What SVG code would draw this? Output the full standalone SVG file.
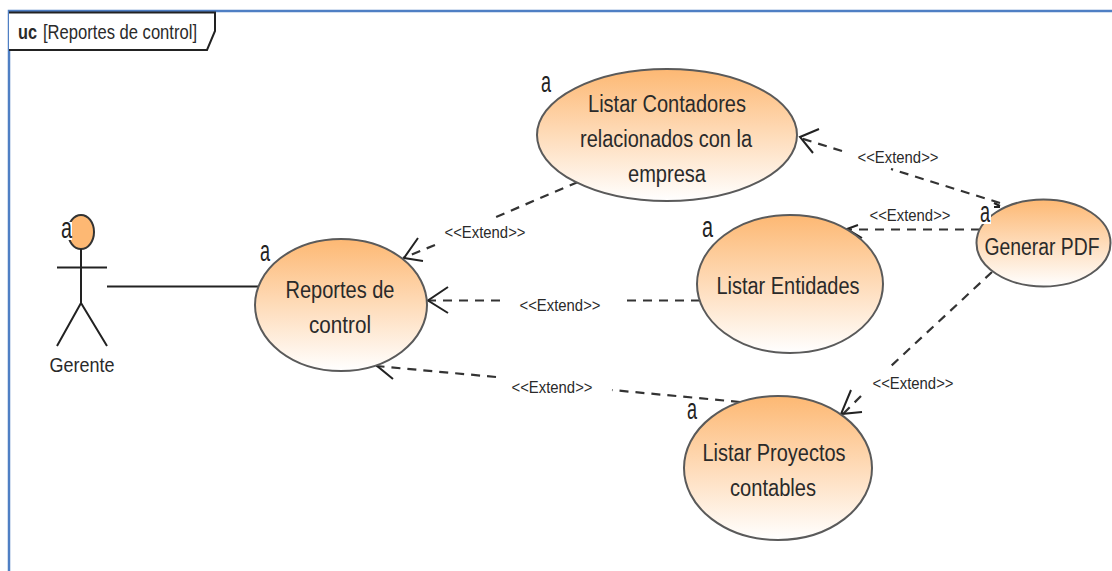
<svg xmlns="http://www.w3.org/2000/svg" width="1112" height="571" viewBox="0 0 1112 571">
<style>
text{font-family:"Liberation Sans",Arial,sans-serif;fill:#2a2a2a}
.uc{stroke:#5a5a5a;stroke-width:2;fill:url(#g)}
.t{font-size:23px;text-anchor:middle}
.e{font-size:16px;text-anchor:middle}
.a{font-size:30px;fill:#222}
.d{fill:none;stroke:#333;stroke-width:2.2;stroke-dasharray:9 7}
.h{fill:none;stroke:#222;stroke-width:2}
.l{fill:none;stroke:#222;stroke-width:2}
.m{fill:#fff}
</style>
<defs><linearGradient id="g" x1="0" y1="0" x2="0" y2="1"><stop offset="0" stop-color="#fdb873"/><stop offset="1" stop-color="#fff"/></linearGradient></defs>
<rect width="1112" height="571" fill="#fff"/>
<path d="M9 571V11H1112" fill="none" stroke="#4f7fc4" stroke-width="2.5"/>
<g id="frame">
<path d="M9 12.500H215V31L207 50H9" fill="#fff" stroke="#222" stroke-width="2"/>
<text x="18" y="39" font-size="20" font-weight="bold" textLength="19" lengthAdjust="spacingAndGlyphs">uc</text>
<text x="43" y="39" font-size="20" textLength="154" lengthAdjust="spacingAndGlyphs">[Reportes de control]</text>
</g>
<g id="connectors">
<path class="l" d="M107 286.500H258"/>
<path class="d" d="M578 182L496 217"/><path class="d" d="M435 245L403 258" stroke-dasharray="7 7"/>
<path class="h" d="M418 238L404 258L423 261"/>
<path class="d" d="M700 300.500H625"/><path class="d" d="M500 300.500H428"/>
<path class="h" d="M448 287L428 300.500L448 313"/>
<path class="d" d="M740 402L612 390"/><path class="d" d="M496 377L376 366"/>
<path class="h" d="M394 354L376 365L393 379"/>
<path class="d" d="M1000 203L891 169"/><path class="d" d="M842 151L800 138"/>
<path class="h" d="M819 129L800 137L813 153"/>
<path class="h" d="M994 207L1000 207M994 203L1000 206"/>
<path class="d" d="M980 229.500H848"/>
<path class="h" d="M858 225L847 229L862 238"/>
<path class="d" d="M992 272L891 366"/><path class="d" d="M861 396L843 414"/>
<path class="h" d="M851 390L841 414L862 412"/>
</g>
<g class="labels">
<text class="e" x="485" y="238" textLength="81" lengthAdjust="spacingAndGlyphs">&lt;&lt;Extend&gt;&gt;</text>
<text class="e" x="560" y="311" textLength="81" lengthAdjust="spacingAndGlyphs">&lt;&lt;Extend&gt;&gt;</text>
<text class="e" x="552" y="393" textLength="81" lengthAdjust="spacingAndGlyphs">&lt;&lt;Extend&gt;&gt;</text>
<text class="e" x="898" y="163" textLength="81" lengthAdjust="spacingAndGlyphs">&lt;&lt;Extend&gt;&gt;</text>
<text class="e" x="910" y="221" textLength="81" lengthAdjust="spacingAndGlyphs">&lt;&lt;Extend&gt;&gt;</text>
<text class="e" x="913" y="389" textLength="81" lengthAdjust="spacingAndGlyphs">&lt;&lt;Extend&gt;&gt;</text>
</g>
<g id="actor-gerente">
<ellipse cx="81" cy="232" rx="13" ry="17" fill="#fdb873" stroke="#333" stroke-width="2"/>
<path class="l" d="M81 249V303M57 267.500H107M57 346L81 303L107 346"/>
<rect x="61" y="222" width="11" height="18" class="m"/>
<text class="a" x="61" y="238" textLength="11" lengthAdjust="spacingAndGlyphs">a</text>
<text class="t" x="82" y="372" style="font-size:21px" textLength="65" lengthAdjust="spacingAndGlyphs">Gerente</text>
</g>
<g id="uc-reportes">
<ellipse class="uc" cx="341" cy="305" rx="86" ry="66"/>
<text class="a" x="260" y="261" textLength="10" lengthAdjust="spacingAndGlyphs">a</text>
<text class="t" x="340" y="298" textLength="109" lengthAdjust="spacingAndGlyphs">Reportes de</text>
<text class="t" x="340" y="333" textLength="62" lengthAdjust="spacingAndGlyphs">control</text>
</g>
<g id="uc-contadores">
<ellipse class="uc" cx="667" cy="135" rx="130" ry="66"/>
<text class="a" x="541" y="92" textLength="10" lengthAdjust="spacingAndGlyphs">a</text>
<text class="t" x="667" y="112" textLength="158" lengthAdjust="spacingAndGlyphs">Listar Contadores</text>
<text class="t" x="666" y="147" textLength="172" lengthAdjust="spacingAndGlyphs">relacionados con la</text>
<text class="t" x="667" y="182" textLength="78" lengthAdjust="spacingAndGlyphs">empresa</text>
</g>
<g id="uc-entidades">
<ellipse class="uc" cx="790" cy="284" rx="93" ry="69"/>
<text class="a" x="702" y="237" textLength="11" lengthAdjust="spacingAndGlyphs">a</text>
<text class="t" x="788" y="294" textLength="143" lengthAdjust="spacingAndGlyphs">Listar Entidades</text>
</g>
<g id="uc-pdf">
<ellipse class="uc" cx="1043.500" cy="243" rx="67" ry="43.500"/>
<rect x="979" y="206" width="12" height="18" class="m"/>
<text class="a" x="980" y="222" textLength="10" lengthAdjust="spacingAndGlyphs">a</text>
<text class="t" x="1042" y="255" textLength="115" lengthAdjust="spacingAndGlyphs">Generar PDF</text>
</g>
<g id="uc-proyectos">
<ellipse class="uc" cx="778" cy="468" rx="94" ry="72"/>
<text class="a" x="687" y="419" textLength="10" lengthAdjust="spacingAndGlyphs">a</text>
<text class="t" x="774" y="461" textLength="143" lengthAdjust="spacingAndGlyphs">Listar Proyectos</text>
<text class="t" x="773" y="496" textLength="86" lengthAdjust="spacingAndGlyphs">contables</text>
</g>
</svg>
